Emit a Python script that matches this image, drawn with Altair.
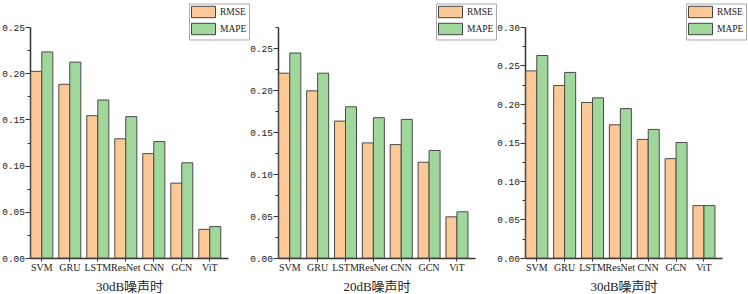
import altair as alt
import pandas as pd

models = ["SVM", "GRU", "LSTM", "ResNet", "CNN", "GCN", "ViT"]
metrics = ["RMSE", "MAPE"]
colors = ["#FCC996", "#A0D89C"]

titles = ["30dB噪声时", "20dB噪声时", "30dB噪声时"]
y_max = [0.25, 0.275, 0.30]

rmse_1 = [0.202, 0.188, 0.154, 0.129, 0.113, 0.081, 0.031]
mape_1 = [0.223, 0.212, 0.171, 0.153, 0.126, 0.103, 0.034]

rmse_2 = [0.220, 0.199, 0.163, 0.137, 0.135, 0.114, 0.049]
mape_2 = [0.244, 0.220, 0.180, 0.167, 0.165, 0.128, 0.055]

rmse_3 = [0.243, 0.224, 0.202, 0.173, 0.154, 0.129, 0.068]
mape_3 = [0.263, 0.241, 0.208, 0.194, 0.167, 0.150, 0.068]

SERIF = "Liberation Serif, Noto Sans CJK SC"
MONO = "Liberation Mono"
AX = "#333333"
TXT = "#222222"
MAJOR = "round(datum.value*1000) % 50 == 0"


def panel(rmse, mape, title, ymax, width, legend_x):
    df = pd.DataFrame({
        "model": models * 2,
        "metric": ["RMSE"] * len(models) + ["MAPE"] * len(models),
        "value": rmse + mape,
    })
    n = int(round(ymax / 0.025))
    ticks = [round(i * 0.025, 3) for i in range(n + 1)]
    return alt.Chart(df).mark_bar(stroke="#4a4a4a", strokeWidth=1).encode(
        x=alt.X(
            "model:N", sort=models,
            scale=alt.Scale(paddingInner=0.214, paddingOuter=0.143, align=0.1),
            axis=alt.Axis(
                title=title, labelAngle=0, labelOverlap=False,
                labelFont=SERIF, labelFontSize=10, labelColor=TXT, labelPadding=1,
                titleFont=SERIF, titleFontSize=13, titleFontWeight="normal",
                titleColor=TXT, titlePadding=8,
                domainColor=AX, domainWidth=1.5, tickColor=AX, tickWidth=1, tickSize=3,
            ),
        ),
        xOffset=alt.XOffset("metric:N", sort=metrics,
                            scale=alt.Scale(paddingInner=0, paddingOuter=0)),
        y=alt.Y(
            "value:Q",
            scale=alt.Scale(domain=[0, ymax], nice=False, zero=True),
            axis=alt.Axis(
                title=None, values=ticks, labelOverlap=False,
                labelExpr=f"{MAJOR} ? format(datum.value, '.2f') : ''",
                labelFont=MONO, labelFontSize=9.5, labelColor=TXT, labelPadding=0.5,
                domainColor=AX, domainWidth=1.5, tickColor=AX, tickWidth=1,
                tickSize={"condition": {"test": MAJOR, "value": 5}, "value": 3},
            ),
        ),
        color=alt.Color(
            "metric:N", sort=metrics,
            scale=alt.Scale(domain=metrics, range=colors),
            legend=alt.Legend(
                title=None, orient="none", legendX=legend_x, legendY=-23.5,
                symbolType="M-1,-0.95H3V0.95H-1Z", symbolSize=144,
                symbolStrokeColor="#444444", symbolStrokeWidth=1, symbolOpacity=1,
                labelFont=SERIF, labelFontSize=9.5, labelColor=TXT, labelOffset=16,
                rowPadding=0, padding=2, strokeColor="#aaaaaa", fillColor="white",
            ),
        ),
    ).properties(width=width, height=231)


p1 = panel(rmse_1, mape_1, titles[0], y_max[0], 198, 159)
p2 = panel(rmse_2, mape_2, titles[1], y_max[1], 197, 158)
p3 = panel(rmse_3, mape_3, titles[2], y_max[2], 197, 161)

chart = alt.hconcat(p1, p2, p3, spacing=50, bounds="flush").resolve_legend(
    color="independent"
).resolve_scale(color="independent").properties(
    padding={"left": 1, "top": 3, "right": 0, "bottom": 0},
    background="white",
).configure_view(stroke=None).configure_axis(grid=False)

chart.save("out.html", embed_options={"renderer": "svg", "actions": False})
